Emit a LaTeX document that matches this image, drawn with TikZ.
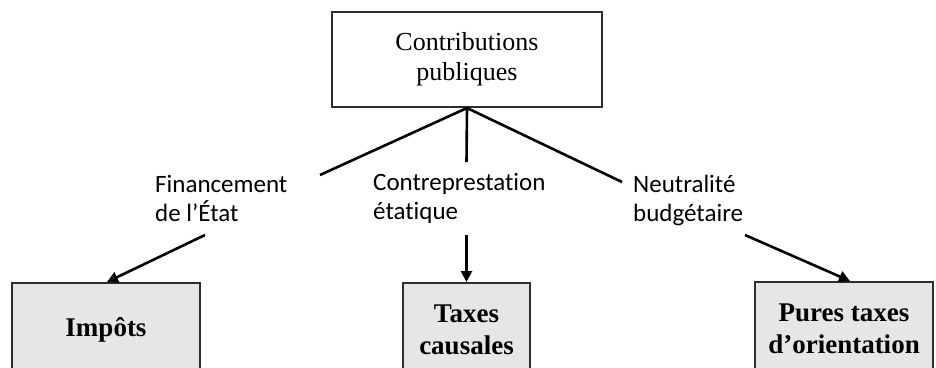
\documentclass[tikz,border=0pt]{standalone}
\usepackage{fontspec}
\setmainfont{Liberation Serif}
\newfontfamily\lblfont[Ligatures={NoCommon}]{Carlito}
\usetikzlibrary{arrows.meta}
\definecolor{boxgray}{HTML}{E6E6E6}
\definecolor{edgegray}{HTML}{2E2E2E}
\tikzset{
  topbox/.style={draw=edgegray, line width=2pt, fill=white, minimum width=270pt, minimum height=95pt,
    inner sep=0pt, align=center, font=\fontsize{26}{30}\selectfont},
  leafbox/.style={draw=edgegray, line width=2pt, fill=boxgray, minimum height=94pt,
    inner sep=0pt, align=center, font=\fontsize{27}{32}\selectfont\bfseries},
  lbl/.style={anchor=west, align=left, inner sep=0pt, font=\lblfont\fontsize{25}{29}\selectfont},
  link/.style={line width=2.6pt, black},
  arr/.style={line width=2.6pt, black, -{Triangle[length=11pt,width=11pt]}}
}
\begin{document}
\begin{tikzpicture}[x=1pt,y=-1pt]
\useasboundingbox (0,0) rectangle (936,367);
\clip (0,0) rectangle (936,367);
\node[topbox] (top) at (467,59.5) {Contributions\\publiques};
\node[leafbox, minimum width=188pt] (imp) at (106,330) {Imp\^ots};
\node[leafbox, minimum width=127pt] (tax) at (466.5,330) {Taxes\\causales};
\node[leafbox, minimum width=178pt] (pur) at (844,329) {Pures taxes\\d’orientation};
\node[lbl] (l1) at (155,198) {Financement\\de l’\'Etat};
\node[lbl] (l2) at (373,198) {Contreprestation\\\'etatique};
\node[lbl] (l3) at (633,200) {Neutralit\'e\\budg\'etaire};
\coordinate (a1) at (320,175);
\coordinate (a2) at (466.5,162);
\coordinate (a3) at (622,182);
\coordinate (b1) at (205,235);
\coordinate (b2) at (466.5,235);
\coordinate (b3) at (745,235);
\draw[link] (top.south) -- (a1);
\draw[link] (top.south) -- (a2);
\draw[link] (top.south) -- (a3);
\draw[arr] (b1) -- ([xshift=1pt]imp.north);
\draw[arr] (b2) -- (tax.north);
\draw[arr] (b3) -- ([xshift=6pt]pur.north);
\end{tikzpicture}
\end{document}
